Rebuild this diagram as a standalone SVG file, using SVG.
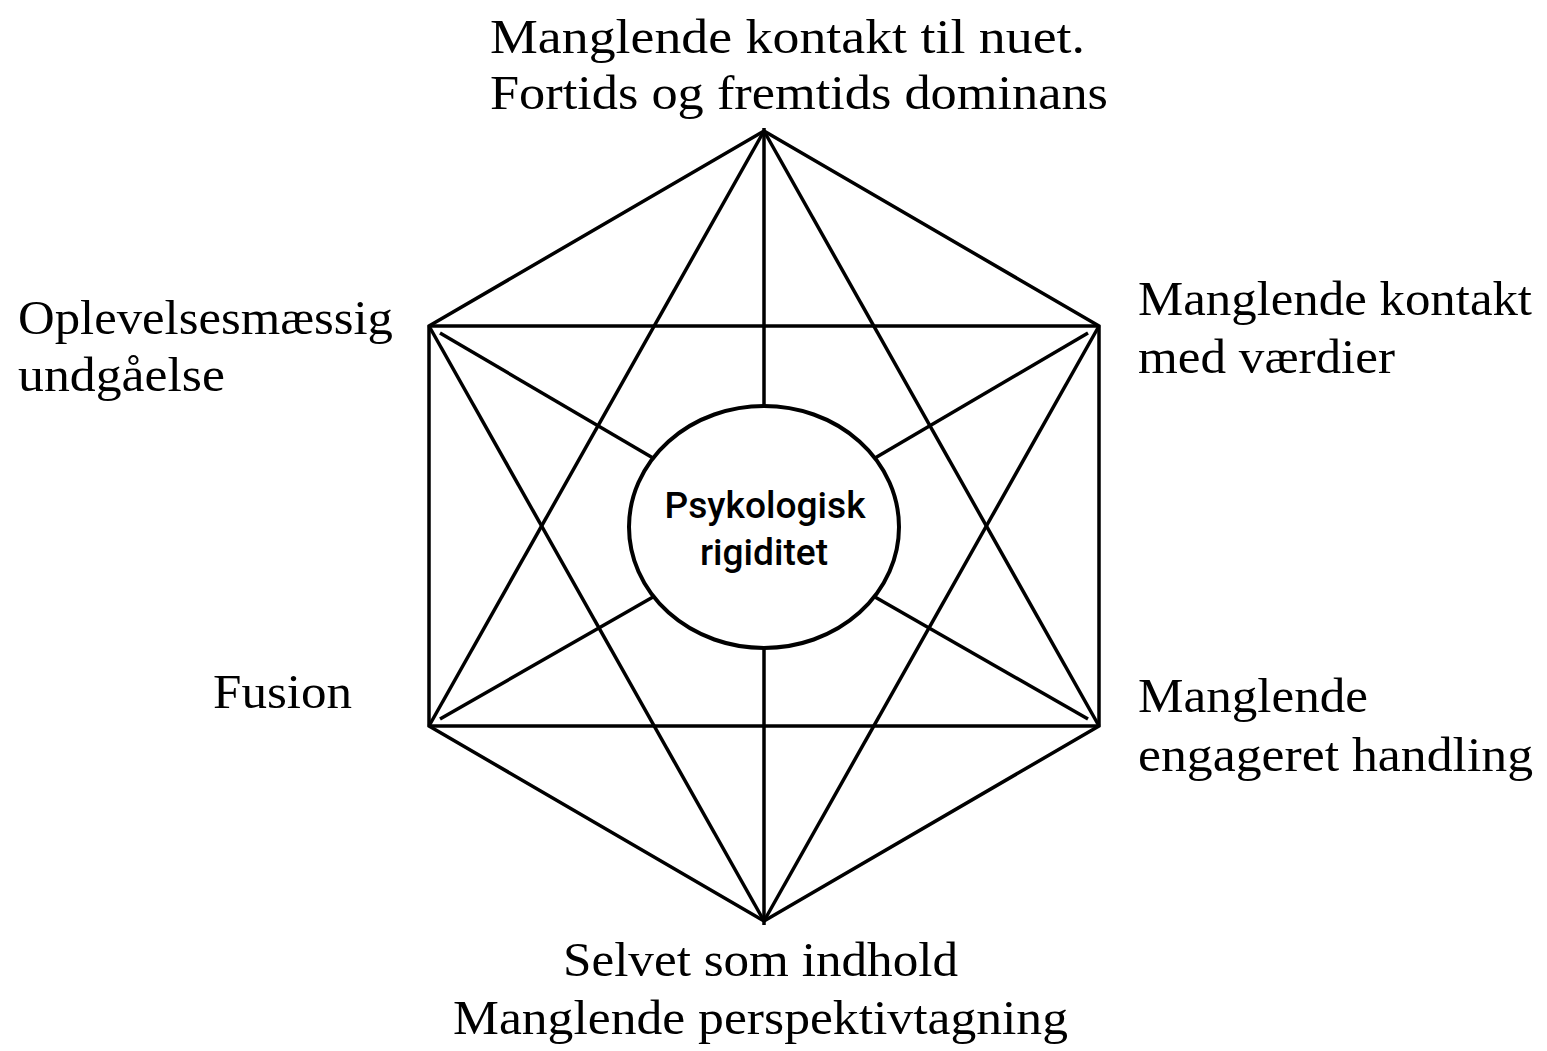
<svg xmlns="http://www.w3.org/2000/svg" width="1547" height="1051" viewBox="0 0 1547 1051">
  <style>
    .edge { stroke: #000; stroke-width: 3.5; fill: none; stroke-linecap: butt; }
    .label { font-family: "Liberation Serif", "Times New Roman", serif; font-size: 48px; fill: #000; }
    .core-text { font-family: Roboto, "DejaVu Sans", sans-serif; font-weight: 500; font-size: 37px; fill: #000; text-anchor: middle; }
    .core { fill: #fff; stroke: #000; stroke-width: 4; }
  </style>
  <rect width="1547" height="1051" fill="#fff"/>

  <!-- connectors: hexagon outline, two triangles, two horizontals and six spokes -->
  <g id="connectors">
    <!-- hexagon -->
    <polygon class="edge" points="764,131 1099,326 1099,726 764,921 429,726 429,326" stroke-linejoin="miter"/>
    <!-- horizontals -->
    <line class="edge" x1="429" y1="326" x2="1099" y2="326"/>
    <line class="edge" x1="429" y1="726" x2="1099" y2="726"/>
    <!-- upward triangle -->
    <line class="edge" x1="764" y1="131" x2="429" y2="726"/>
    <line class="edge" x1="764" y1="131" x2="1099" y2="726"/>
    <!-- downward triangle -->
    <line class="edge" x1="764" y1="921" x2="429" y2="326"/>
    <line class="edge" x1="764" y1="921" x2="1099" y2="326"/>
    <!-- spokes to the centre -->
    <line class="edge" x1="764" y1="128" x2="764" y2="406"/>
    <line class="edge" x1="764" y1="648" x2="764" y2="925"/>
    <line class="edge" x1="440" y1="333" x2="653" y2="458"/>
    <line class="edge" x1="1088" y1="333" x2="875" y2="458"/>
    <line class="edge" x1="440" y1="719" x2="653" y2="597"/>
    <line class="edge" x1="1088" y1="719" x2="875" y2="597"/>
  </g>

  <g id="node-core">
    <ellipse class="core" cx="764" cy="527" rx="135" ry="121"/>
    <text class="core-text" x="765" y="518" textLength="201" lengthAdjust="spacingAndGlyphs">Psykologisk</text>
    <text class="core-text" x="764" y="565" textLength="128" lengthAdjust="spacingAndGlyphs">rigiditet</text>
  </g>

  <g id="node-top">
    <text class="label" x="490" y="53" textLength="595" lengthAdjust="spacingAndGlyphs">Manglende kontakt til nuet.</text>
    <text class="label" x="490" y="109" textLength="618" lengthAdjust="spacingAndGlyphs">Fortids og fremtids dominans</text>
  </g>

  <g id="node-upper-left">
    <text class="label" x="18" y="334" textLength="375" lengthAdjust="spacingAndGlyphs">Oplevelsesmæssig</text>
    <text class="label" x="18" y="391" textLength="207" lengthAdjust="spacingAndGlyphs">undgåelse</text>
  </g>

  <g id="node-upper-right">
    <text class="label" x="1138" y="315" textLength="394" lengthAdjust="spacingAndGlyphs">Manglende kontakt</text>
    <text class="label" x="1138" y="373" textLength="257" lengthAdjust="spacingAndGlyphs">med værdier</text>
  </g>

  <g id="node-lower-right">
    <text class="label" x="1138" y="712" textLength="230" lengthAdjust="spacingAndGlyphs">Manglende</text>
    <text class="label" x="1138" y="771" textLength="395" lengthAdjust="spacingAndGlyphs">engageret handling</text>
  </g>

  <g id="node-lower-left">
    <text class="label" x="213" y="708" textLength="139" lengthAdjust="spacingAndGlyphs">Fusion</text>
  </g>

  <g id="node-bottom">
    <text class="label" x="563" y="976" textLength="395" lengthAdjust="spacingAndGlyphs">Selvet som indhold</text>
    <text class="label" x="453" y="1034" textLength="615" lengthAdjust="spacingAndGlyphs">Manglende perspektivtagning</text>
  </g>
</svg>
